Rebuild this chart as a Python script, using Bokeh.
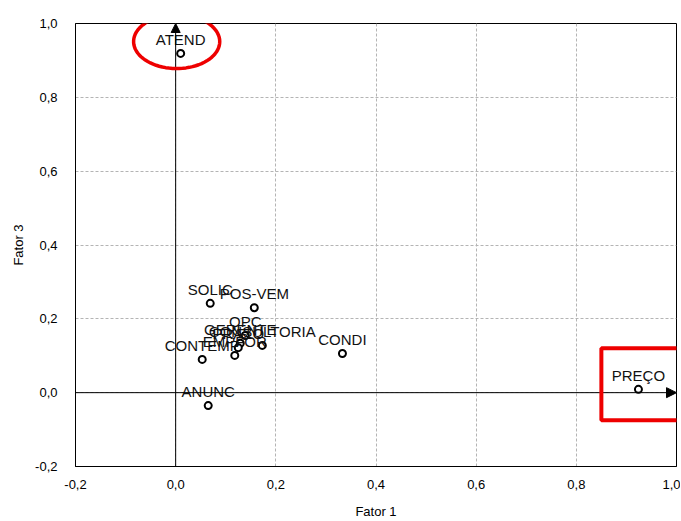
from bokeh.plotting import figure
from bokeh.models import (ColumnDataSource, FixedTicker, CustomJSTickFormatter,
                          Arrow, NormalHead, PolyAnnotation, Range1d)
from bokeh.core.properties import value
from bokeh.embed import file_html
from bokeh.resources import INLINE
import numpy as np

# ---- data ----
labels = ["ATEND", "SOLIC", "POS-VEM", "OPC", "GERENTE", "CONSULTORIA",
          "PRAZO", "EMPFOR", "CONTEMP", "CONDI", "ANUNC", "PREÇO"]
fator1 = [0.010, 0.069, 0.157, 0.139, 0.129, 0.173,
          0.125, 0.118, 0.053, 0.333, 0.065, 0.924]
fator3 = [0.919, 0.242, 0.230, 0.155, 0.134, 0.128,
          0.122, 0.101, 0.090, 0.106, -0.035, 0.009]
ticks = [-0.2, 0.0, 0.2, 0.4, 0.6, 0.8, 1.0]
XMIN, XMAX = -0.2, 1.0
YMIN, YMAX = -0.2, 1.0

# highlight shapes (annotation positions)
ell_cx, ell_cy, ell_rx, ell_ry = 0.002, 0.951, 0.086, 0.073
box_l, box_r, box_b, box_t = 0.850, 1.008, -0.075, 0.120

FONT = "Liberation Sans"

p = figure(width=680, height=521, output_backend="svg", toolbar_location=None,
           x_range=Range1d(XMIN, XMAX), y_range=Range1d(YMIN, YMAX),
           min_border_left=75, min_border_right=4, min_border_top=23,
           min_border_bottom=55)
p.background_fill_color = "white"
p.border_fill_color = "white"
p.outline_line_color = "black"
p.outline_line_width = 1

fmt = CustomJSTickFormatter(code="return tick.toFixed(1).replace('.', ',');")
for ax in (p.xaxis[0], p.yaxis[0]):
    ax.ticker = FixedTicker(ticks=ticks)
    ax.formatter = fmt
    ax.major_label_text_font = FONT
    ax.major_label_text_font_size = "13px"
    ax.major_label_text_color = "black"
    ax.axis_label_text_font = FONT
    ax.axis_label_text_font_size = "13px"
    ax.axis_label_text_font_style = "normal"
    ax.axis_label_text_color = "black"
    ax.axis_line_color = "black"
    ax.major_tick_in = 0
    ax.major_tick_out = 0
    ax.minor_tick_in = 0
    ax.minor_tick_out = 0

p.xaxis.axis_label = "Fator 1"
p.yaxis.axis_label = "Fator 3"
p.xaxis.major_label_standoff = 13
p.xaxis.axis_label_standoff = 12
p.yaxis.major_label_standoff = 18
p.yaxis.axis_label_standoff = 6

for g in (p.xgrid[0], p.ygrid[0]):
    g.ticker = FixedTicker(ticks=ticks)
    g.grid_line_color = "#b4b4b4"
    g.grid_line_dash = "3 2"
    g.grid_line_width = 1

# axis arrows through origin
p.add_layout(Arrow(x_start=0, y_start=YMIN, x_end=0, y_end=YMAX,
                   line_color="black", line_width=1,
                   end=NormalHead(size=9, fill_color="black", fill_alpha=1.0,
                                  line_color="black", line_width=1)))
p.add_layout(Arrow(x_start=XMIN, y_start=0, x_end=XMAX, y_end=0,
                   line_color="black", line_width=1,
                   end=NormalHead(size=10, fill_color="black", fill_alpha=1.0,
                                  line_color="black", line_width=1)))

src = ColumnDataSource(dict(x=fator1, y=fator3, label=labels))
p.scatter("x", "y", source=src, size=7, marker="circle", fill_color="white",
          line_color="black", line_width=2)
p.text("x", "y", text="label", source=src, text_align="center",
       text_baseline="middle", y_offset=-14, text_font=value(FONT),
       text_font_size="15px", text_color="#111111")

# red highlights
t = np.linspace(0, 2 * np.pi, 80)
p.add_layout(PolyAnnotation(xs=list(ell_cx + ell_rx * np.cos(t)),
                            ys=list(ell_cy + ell_ry * np.sin(t)),
                            fill_alpha=0, line_color="#ee0000", line_alpha=1.0,
                            line_width=3.5))
p.add_layout(PolyAnnotation(xs=[box_l, box_r, box_r, box_l],
                            ys=[box_b, box_b, box_t, box_t],
                            fill_alpha=0, line_color="#ee0000", line_alpha=1.0,
                            line_width=4))

open("out.html", "w").write(file_html(p, INLINE))
